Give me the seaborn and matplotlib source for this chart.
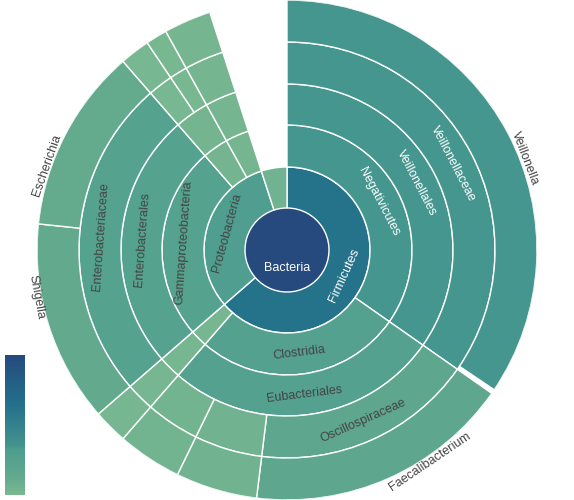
import numpy as np
import matplotlib
matplotlib.use("Agg")
import matplotlib.pyplot as plt
from matplotlib.colors import LinearSegmentedColormap, Normalize
import seaborn as sns

sns.set_style("white")
plt.rcParams['font.family'] = ['Liberation Sans', 'DejaVu Sans']

ids = ["Bacteria", "Firmicutes", "Negativicutes", "Veillonellales", "Veillonellaceae", "Veillonella",
       "Clostridia", "Eubacteriales", "Oscillospiraceae", "Faecalibacterium",
       "Ef2", "Eg2", "Ef3", "Eg3",
       "Fc3", "Fo3", "Ff3", "Fg3",
       "Proteobacteria", "Gammaproteobacteria", "Enterobacterales", "Enterobacteriaceae",
       "Shigella", "Escherichia",
       "Pc2", "Po2", "Pf2a", "Pg2a", "Pf2b", "Pg2b",
       "Pc3", "Po3", "Pf3", "Pg3",
       "Ph3"]
labels = ["Bacteria", "Firmicutes", "Negativicutes", "Veillonellales", "Veillonellaceae", "Veillonella",
          "Clostridia", "Eubacteriales", "Oscillospiraceae", "Faecalibacterium",
          "", "", "", "", "", "", "", "",
          "Proteobacteria", "Gammaproteobacteria", "Enterobacterales", "Enterobacteriaceae",
          "Shigella", "Escherichia",
          "", "", "", "", "", "", "", "", "", "", ""]
parents = ["", "Bacteria", "Firmicutes", "Negativicutes", "Veillonellales", "Veillonellaceae",
           "Firmicutes", "Clostridia", "Eubacteriales", "Oscillospiraceae",
           "Eubacteriales", "Ef2", "Eubacteriales", "Ef3",
           "Firmicutes", "Fc3", "Fo3", "Ff3",
           "Bacteria", "Proteobacteria", "Gammaproteobacteria", "Enterobacterales",
           "Enterobacteriaceae", "Enterobacteriaceae",
           "Proteobacteria", "Pc2", "Po2", "Pf2a", "Po2", "Pf2b",
           "Proteobacteria", "Pc3", "Po3", "Pf3",
           "Bacteria"]
values = [360, 229, 125, 125, 125, 124,
          96, 96, 62, 62,
          19, 19, 15, 15,
          8, 8, 8, 8,
          113, 90, 90, 90,
          47, 43,
          12, 12, 7, 7, 5, 5,
          11, 11, 11, 11,
          18]

# angular nudges (degrees) for the outside leaf labels
label_shift = {"Veillonella": 7, "Faecalibacterium": -10, "Escherichia": -8, "Shigella": 7}

cmap = LinearSegmentedColormap.from_list("c", [(0, "#7ab991"), (0.13, "#62a98e"), (0.32, "#4e9e8f"),
                                              (0.35, "#43948e"), (0.64, "#24718b"), (1, "#264a7e")])
norm = Normalize(0, 360)

children = {}
for i, p in zip(ids, parents):
    children.setdefault(p, []).append(i)
val = dict(zip(ids, values))
lab = dict(zip(ids, labels))

W, H = 574, 500
fig = plt.figure(figsize=(W / 100, H / 100), dpi=100)
R = 250
ax = fig.add_axes([(287 - R) / W, (250 - R) / H, 2 * R / W, 2 * R / H], projection="polar")
ax.set_theta_zero_location("N")
ax.set_theta_direction(-1)
ax.set_ylim(0, R)
ax.axis("off")

ring = [0, 42, 83, 125, 166, 208, 250]
white_text = {"Bacteria", "Firmicutes", "Negativicutes", "Veillonellales", "Veillonellaceae"}

def draw(node, start, depth):
    v = val[node]
    col = cmap(norm(v))
    r0, r1 = ring[depth], ring[depth + 1]
    if depth == 0:
        ax.bar(0, r1, width=2 * np.pi, bottom=0, color=col, linewidth=0)
    else:
        ax.bar(np.deg2rad(start + v / 2), r1 - r0, width=np.deg2rad(v), bottom=r0,
               color=col, edgecolor="white", linewidth=1, align="center")
    t = lab[node]
    if t:
        mid = start + v / 2
        if depth == 0:
            ax.text(np.pi, 18, t, ha="center", va="center", color="white", fontsize=9)
        else:
            leaf = node not in children
            rr = 255 if leaf else (r0 + r1) / 2
            mid += label_shift.get(node, 0)
            rot = (-mid) % 360
            if rot > 180:
                rot -= 360
            if rot > 90:
                rot -= 180
            elif rot <= -90:
                rot += 180
            c = "white" if node in white_text else "#444444"
            ax.text(np.deg2rad(mid), rr, t, ha="center", va="center", rotation=rot,
                    rotation_mode="anchor", color=c, fontsize=9)
    s = start
    for ch in children.get(node, []):
        draw(ch, s, depth + 1)
        s += val[ch]

draw("Bacteria", 0, 0)

cax = fig.add_axes([5 / W, 1 - 495 / H, 20 / W, 140 / H])
grad = np.linspace(1, 0, 200).reshape(-1, 1)
cax.imshow(grad, aspect="auto", cmap=cmap)
cax.set_xticks([]); cax.set_yticks([])
for s in cax.spines.values():
    s.set_visible(False)

fig.savefig("out.png", dpi=100)
